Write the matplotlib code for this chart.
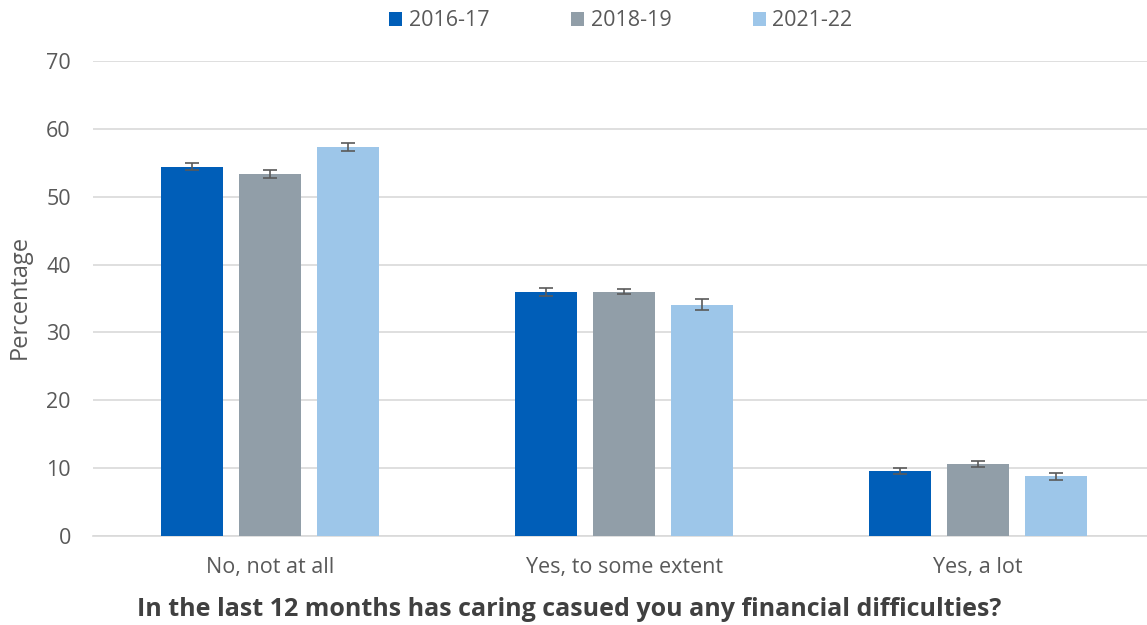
import matplotlib.pyplot as plt
import numpy as np

# Data
categories = ['No, not at all', 'Yes, to some extent', 'Yes, a lot']
years = ['2016-17', '2018-19', '2021-22']
values_2016 = [54.4, 36.0, 9.6]
values_2018 = [53.4, 36.0, 10.6]
values_2021 = [57.3, 34.1, 8.8]
err_2016 = [0.5, 0.6, 0.4]
err_2018 = [0.6, 0.4, 0.45]
err_2021 = [0.6, 0.8, 0.5]

colors = ['#005EB8', '#919EA8', '#9DC6E9']
text_color = '#595959'

plt.rcParams['font.family'] = ['Open Sans', 'DejaVu Sans']

fig = plt.figure(figsize=(11.47, 6.25), dpi=100)
ax = fig.add_axes([93 / 1147, 89 / 625, 1062 / 1147, 475 / 625])

x = np.arange(len(categories))
width = 0.175
step = 0.22
series = [(values_2016, err_2016), (values_2018, err_2018), (values_2021, err_2021)]
for i, (vals, errs) in enumerate(series):
    ax.bar(x + (i - 1) * step, vals, width, color=colors[i], label=years[i],
           yerr=errs, capsize=5,
           error_kw={'ecolor': '#5a5a5a', 'elinewidth': 1.2, 'capthick': 1.2},
           zorder=3)

ax.set_xlim(-0.5, 2.5)
ax.set_ylim(0, 70)
ax.set_yticks(range(0, 71, 10))
ax.set_xticks(x)
ax.set_xticklabels(categories)
ax.grid(axis='y', color='#d9d9d9', linewidth=1.2, zorder=0)
for side in ['top', 'right', 'left']:
    ax.spines[side].set_visible(False)
ax.spines['bottom'].set_color('#d9d9d9')
ax.spines['bottom'].set_linewidth(1.2)
ax.tick_params(axis='both', length=0, labelsize=15.5, colors=text_color)
ax.tick_params(axis='x', pad=15)
ax.tick_params(axis='y', pad=16)

fig.text(20 / 1147, 1 - 297 / 625, 'Percentage', rotation=90, fontsize=17,
         color=text_color, ha='center', va='center')
fig.text(569 / 1147, 1 - 610 / 625,
         'In the last 12 months has caring casued you any financial difficulties?',
         fontsize=18, fontweight='bold', color='#404040', ha='center', va='center')

handles, labels = ax.get_legend_handles_labels()
fig.legend(handles, labels, loc='center', bbox_to_anchor=(621 / 1147, 1 - 21 / 625),
           ncol=3, frameon=False, fontsize=15.5, handlelength=0.6, handleheight=0.6,
           columnspacing=3.8, handletextpad=0.3, labelcolor=text_color)

fig.savefig('out.png', dpi=100)
